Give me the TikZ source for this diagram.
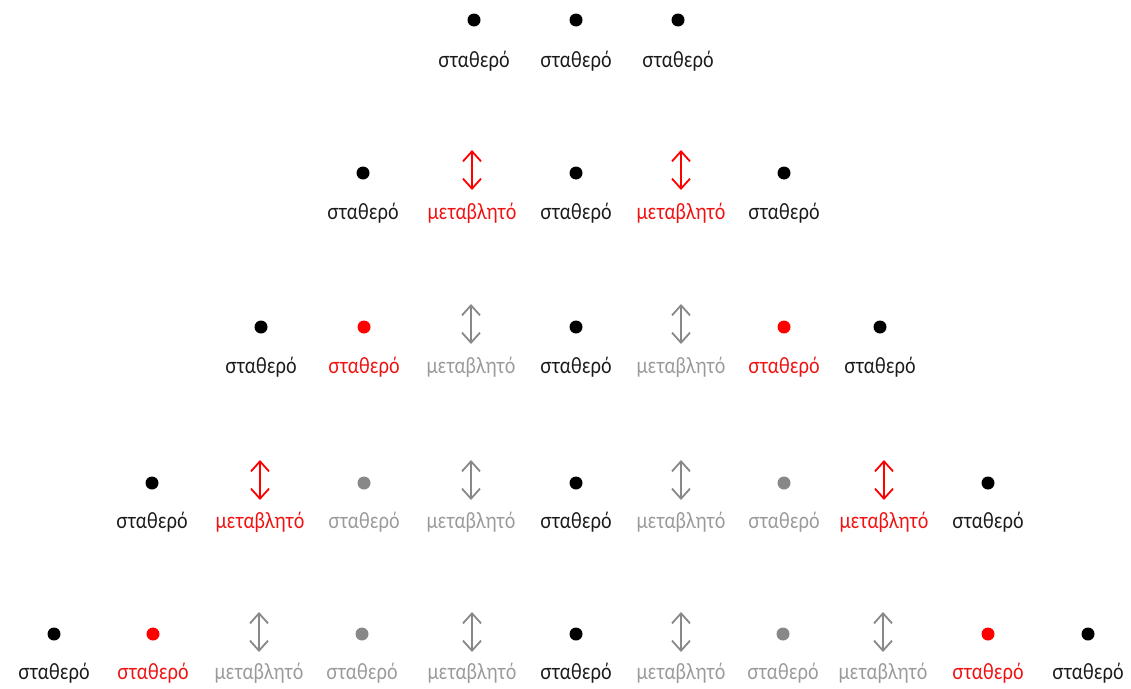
\documentclass[tikz,border=0pt]{standalone}
\usepackage{fontspec}
\setmainfont[FakeStretch=0.85]{Lato}
\usetikzlibrary{arrows.meta}

\definecolor{dotk}{HTML}{000000}
\definecolor{dotr}{HTML}{FF0000}
\definecolor{dotg}{HTML}{888888}
\definecolor{txtk}{HTML}{1A1A1A}
\definecolor{txtr}{HTML}{F01010}
\definecolor{txtg}{HTML}{9A9A9A}
\colorlet{arrk}{dotk}
\colorlet{arrr}{dotr}
\colorlet{arrg}{dotg}

\tikzset{
	dot/.style={circle, minimum size=13pt, inner sep=0pt},
	word/.style={anchor=base, inner sep=0pt, font=\fontsize{22}{26}\selectfont},
	vec/.style={line width=1.8pt, {Straight Barb[length=10pt, width=18pt, line width=1.8pt]}-{Straight Barb[length=10pt, width=18pt, line width=1.8pt]}}
}

\begin{document}
\begin{tikzpicture}[x=1pt, y=-1pt]
\useasboundingbox (0,0) rectangle (1131,688);

% Γραμμή 1
	\foreach \x/\c [count=\i] in {474/k, 576/k, 678/k} {
		\node[dot, fill=dot\c] (s1\i) at (\x,20) {};
		\node[word, text=txt\c] (ts1\i) at (\x,67) {σταθερό};
	}

% Γραμμή 2
	\foreach \x/\c [count=\i] in {363/k, 576/k, 784/k} {
		\node[dot, fill=dot\c] (s2\i) at (\x,173) {};
		\node[word, text=txt\c] (ts2\i) at (\x,219) {σταθερό};
	}
	\foreach \x/\c [count=\i] in {472/r, 681/r} {
		\coordinate (a2\i) at (\x,150);
		\coordinate (b2\i) at (\x,190);
		\draw[vec, draw=arr\c] (a2\i) -- (b2\i);
		\node[word, text=txt\c] (tm2\i) at (\x,219) {μεταβλητό};
	}

% Γραμμή 3
	\foreach \x/\c [count=\i] in {261/k, 364/r, 576/k, 784/r, 880/k} {
		\node[dot, fill=dot\c] (s3\i) at (\x,327) {};
		\node[word, text=txt\c] (ts3\i) at (\x,373) {σταθερό};
	}
	\foreach \x/\c [count=\i] in {471/g, 681/g} {
		\coordinate (a3\i) at (\x,304);
		\coordinate (b3\i) at (\x,344);
		\draw[vec, draw=arr\c] (a3\i) -- (b3\i);
		\node[word, text=txt\c] (tm3\i) at (\x,373) {μεταβλητό};
	}

% Γραμμή 4
	\foreach \x/\c [count=\i] in {152/k, 364/g, 576/k, 784/g, 988/k} {
		\node[dot, fill=dot\c] (s4\i) at (\x,483) {};
		\node[word, text=txt\c] (ts4\i) at (\x,528) {σταθερό};
	}
	\foreach \x/\c [count=\i] in {260/r, 471/g, 681/g, 884/r} {
		\coordinate (a4\i) at (\x,460);
		\coordinate (b4\i) at (\x,500);
		\draw[vec, draw=arr\c] (a4\i) -- (b4\i);
		\node[word, text=txt\c] (tm4\i) at (\x,528) {μεταβλητό};
	}

% Γραμμή 5
	\foreach \x/\c [count=\i] in {54/k, 153/r, 362/g, 576/k, 783/g, 988/r, 1088/k} {
		\node[dot, fill=dot\c] (s5\i) at (\x,634) {};
		\node[word, text=txt\c] (ts5\i) at (\x,679) {σταθερό};
	}
	\foreach \x/\c [count=\i] in {259/g, 472/g, 681/g, 883/g} {
		\coordinate (a5\i) at (\x,612);
		\coordinate (b5\i) at (\x,652);
		\draw[vec, draw=arr\c] (a5\i) -- (b5\i);
		\node[word, text=txt\c] (tm5\i) at (\x,679) {μεταβλητό};
	}
\end{tikzpicture}
\end{document}
